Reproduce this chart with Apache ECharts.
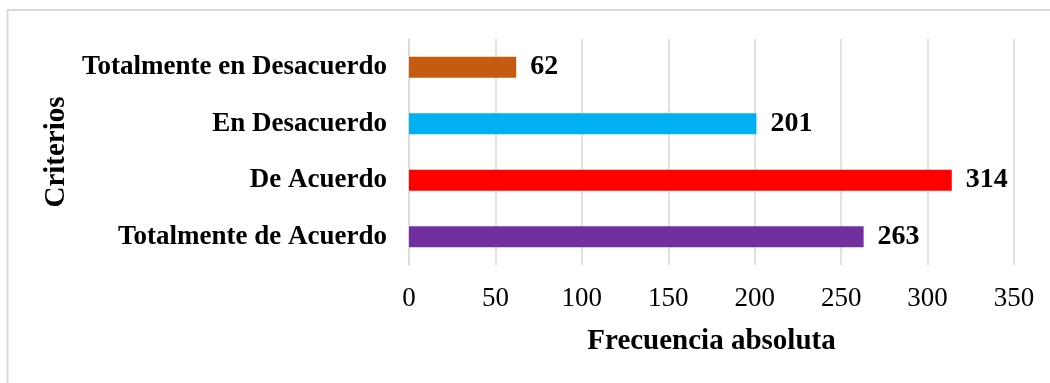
<!DOCTYPE html>
<html>
<head>
<meta charset="utf-8">
<style>
  html, body { margin: 0; padding: 0; background: #fff; }
  #chart { width: 1050px; height: 383px; }
</style>
<script src="https://cdn.jsdelivr.net/npm/echarts@6/dist/echarts.min.js"></script>
</head>
<body>
<div id="chart"></div>
<script>
// Response categories, bottom to top on the vertical axis
const categories = ['Totalmente de Acuerdo', 'De Acuerdo', 'En Desacuerdo', 'Totalmente en Desacuerdo'];
// Absolute frequency per category
const frequencies = [263, 314, 201, 62];
// Bar colour per category
const barColors = ['#7030A0', '#FF0000', '#00B0F0', '#C55A11'];
// Horizontal axis ticks
const xTicks = [0, 50, 100, 150, 200, 250, 300, 350];

const FONT = 'Liberation Serif, Times New Roman, serif';

const chart = echarts.init(document.getElementById('chart'), null, { renderer: 'canvas' });

chart.setOption({
  backgroundColor: '#ffffff',
  animation: false,
  graphic: [{
    type: 'rect',
    shape: { x: 7.5, y: 10, width: 1100, height: 420 },
    style: { fill: 'none', stroke: '#d9d9d9', lineWidth: 2 },
    silent: true
  }],
  grid: { left: 409, right: 36, top: 39, bottom: 118, containLabel: false },
  xAxis: {
    type: 'value',
    min: xTicks[0],
    max: xTicks[xTicks.length - 1],
    interval: xTicks[1] - xTicks[0],
    axisLine: { show: false },
    axisTick: { show: false },
    splitLine: { show: true, lineStyle: { color: '#d9d9d9', width: 1.5 } },
    axisLabel: { color: '#000', fontFamily: FONT, fontSize: 27, margin: 20 },
    name: 'Frecuencia absoluta',
    nameLocation: 'middle',
    nameGap: 62,
    nameTextStyle: { color: '#000', fontFamily: FONT, fontSize: 29, fontWeight: 'bold' }
  },
  yAxis: {
    type: 'category',
    data: categories,
    axisLine: { show: true, lineStyle: { color: '#d9d9d9', width: 1.5 } },
    axisTick: { show: false },
    axisLabel: { color: '#000', fontFamily: FONT, fontSize: 27, fontWeight: 'bold', margin: 22 },
    name: 'Criterios',
    nameLocation: 'middle',
    nameRotate: 90,
    nameGap: 332,
    nameTextStyle: { color: '#000', fontFamily: FONT, fontSize: 29, fontWeight: 'bold' }
  },
  series: [{
    type: 'bar',
    data: frequencies.map((v, i) => ({ value: v, itemStyle: { color: barColors[i] } })),
    barWidth: 21,
    label: {
      show: true,
      position: 'right',
      distance: 14,
      color: '#000',
      fontFamily: FONT,
      fontSize: 28,
      fontWeight: 'bold'
    }
  }]
});
</script>
</body>
</html>
